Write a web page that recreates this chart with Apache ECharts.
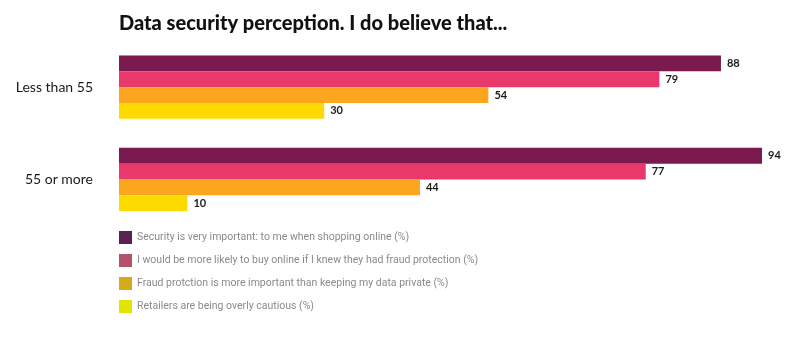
<!DOCTYPE html>
<html>
<head>
<meta charset="utf-8">
<script src="https://cdn.jsdelivr.net/npm/echarts@6/dist/echarts.min.js"></script>
<style>
  html, body { margin: 0; padding: 0; background: #fff; }
  #chart { width: 800px; height: 337px; }
</style>
</head>
<body>
<div id="chart"></div>
<script>
// Age groups, top to bottom
const categories = ['Less than 55', '55 or more'];

// Statement names (legend order)
const seriesNames = [
  'Security is very important: to me when shopping online (%)',
  'I would be more likely to buy online if I knew they had fraud protection (%)',
  'Fraud protction is more important than keeping my data private (%)',
  'Retailers are being overly cautious (%)'
];

// Percentages per statement, one value per age group
const securityImportant = [88, 94];
const fraudProtectionBuy = [79, 77];
const fraudOverPrivacy = [54, 44];
const overlyCautious = [30, 10];

const barColors = ['#7a1a4e', '#e8396a', '#fca61f', '#fedb00'];
const legendColors = ['#5b2150', '#b3526b', '#d6aa1c', '#e0e400'];

const values = [securityImportant, fraudProtectionBuy, fraudOverPrivacy, overlyCautious];

const chart = echarts.init(document.getElementById('chart'));

const series = seriesNames.map((name, i) => ({
  name: name,
  type: 'bar',
  data: values[i],
  barWidth: 15.8,
  barGap: '0%',
  itemStyle: { color: barColors[i] },
  label: {
    show: true,
    position: 'right',
    distance: 6,
    color: '#1a1a1a',
    fontFamily: 'Lato',
    fontWeight: 'bold',
    fontSize: 11
  }
}));

chart.setOption({
  animation: false,
  title: {
    text: 'Data security perception. I do believe that...',
    left: 119,
    top: 14,
    padding: 0,
    textStyle: {
      fontFamily: 'Lato',
      fontWeight: 900,
      fontSize: 20,
      color: '#111'
    }
  },
  grid: {
    left: 119,
    top: 41,
    height: 184.6,
    width: 643
  },
  xAxis: {
    type: 'value',
    min: 0,
    max: 94,
    show: false
  },
  yAxis: {
    type: 'category',
    data: categories,
    inverse: true,
    axisLine: { show: false },
    axisTick: { show: false },
    splitLine: { show: false },
    axisLabel: {
      margin: 26,
      color: '#1a1a1a',
      fontFamily: 'Lato',
      fontSize: 14
    }
  },
  legend: {
    orient: 'vertical',
    left: 119,
    top: 231,
    padding: 0,
    itemWidth: 13,
    itemHeight: 13,
    itemGap: 10,
    icon: 'rect',
    textStyle: {
      color: '#8a8a8a',
      fontFamily: 'Roboto',
      fontSize: 10.5
    },
    data: seriesNames.map((name, i) => ({
      name: name,
      itemStyle: { color: legendColors[i] }
    }))
  },
  series: series
});
</script>
</body>
</html>
